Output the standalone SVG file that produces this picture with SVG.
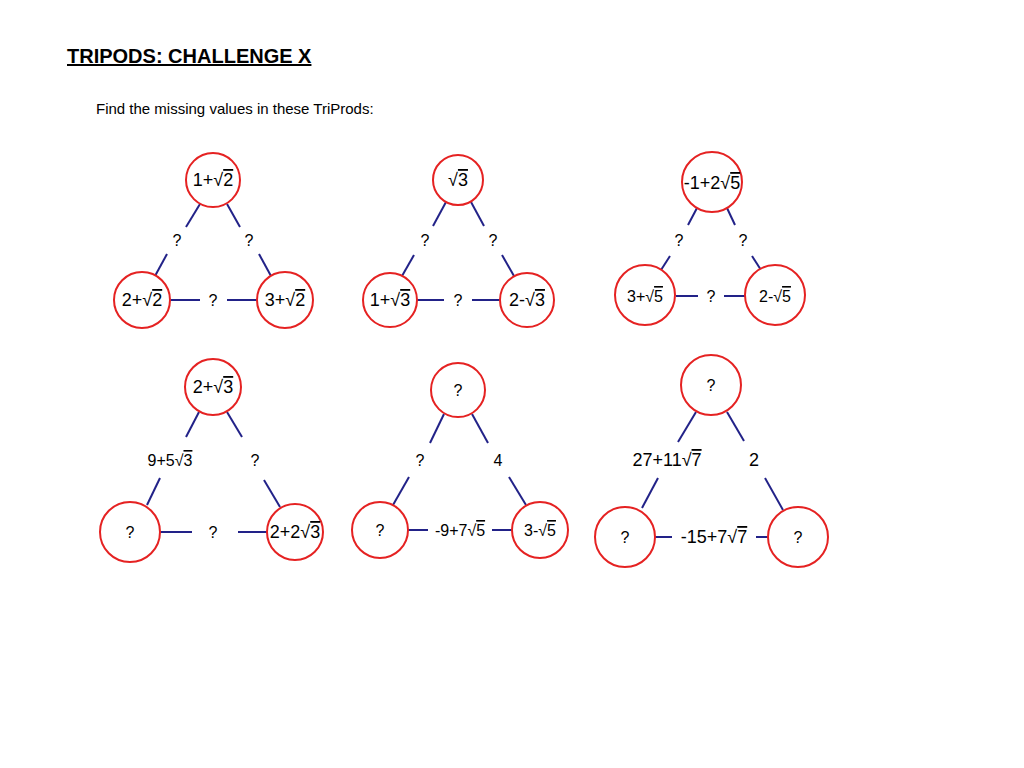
<svg xmlns="http://www.w3.org/2000/svg" width="1024" height="768" viewBox="0 0 1024 768">
<style>
text{font-family:"Liberation Sans",Arial,sans-serif;fill:#000}
.n{fill:#fff;stroke:#e52222;stroke-width:2}
.t{font-size:18px;text-anchor:middle;dominant-baseline:central}
.l{font-size:16px;text-anchor:middle;dominant-baseline:central}
.o{text-decoration:overline}
#edges line{stroke:#222288;stroke-width:2}
</style>
<rect width="1024" height="768" fill="#fff"/>
<text x="67" y="63" font-size="20" font-weight="bold" text-decoration="underline">TRIPODS: CHALLENGE X</text>
<text x="96" y="114" font-size="15">Find the missing values in these TriProds:</text>
<g id="edges">
<line x1="200" y1="204" x2="186" y2="227"/><line x1="167" y1="254" x2="155" y2="276"/>
<line x1="227" y1="204" x2="240" y2="227"/><line x1="259" y1="254" x2="271" y2="276"/>
<line x1="170" y1="300" x2="200" y2="300"/><line x1="227" y1="300" x2="257" y2="300"/>
<line x1="446" y1="202" x2="433" y2="226"/><line x1="414" y1="255" x2="402" y2="276"/>
<line x1="471" y1="202" x2="484" y2="226"/><line x1="502" y1="255" x2="514" y2="276"/>
<line x1="417" y1="300" x2="444" y2="300" stroke-width="3"/><line x1="472" y1="300" x2="500" y2="300" stroke-width="3"/>
<line x1="697" y1="208" x2="688" y2="225"/><line x1="670" y1="256" x2="661" y2="270"/>
<line x1="727" y1="208" x2="735" y2="225"/><line x1="752" y1="256" x2="761" y2="270"/>
<line x1="676" y1="296" x2="698" y2="296"/><line x1="724" y1="296" x2="745" y2="296"/>
<line x1="199" y1="412" x2="186" y2="437"/><line x1="160" y1="478" x2="147" y2="505"/>
<line x1="227" y1="412" x2="242" y2="437"/><line x1="264" y1="480" x2="280" y2="507"/>
<line x1="160" y1="532" x2="192" y2="532"/><line x1="238" y1="532" x2="267" y2="532"/>
<line x1="444" y1="414" x2="430" y2="443"/><line x1="409" y1="477" x2="393" y2="505"/>
<line x1="472" y1="414" x2="488" y2="443"/><line x1="509" y1="477" x2="526" y2="505"/>
<line x1="408" y1="530" x2="428" y2="530"/><line x1="492" y1="530" x2="512" y2="530"/>
<line x1="696" y1="412" x2="678" y2="442"/><line x1="658" y1="478" x2="642" y2="508"/>
<line x1="727" y1="412" x2="744" y2="441"/><line x1="765" y1="478" x2="783" y2="510"/>
<line x1="655" y1="537" x2="672" y2="537"/><line x1="756" y1="537" x2="768" y2="537"/>
</g>
<g id="t1">
<g id="n1a"><circle class="n" cx="213" cy="180" r="27"/><text class="t" x="213" y="180">1+√<tspan class="o">2</tspan></text></g>
<g id="n1b"><circle class="n" cx="142" cy="300" r="28"/><text class="t" x="142" y="300">2+√<tspan class="o">2</tspan></text></g>
<g id="n1c"><circle class="n" cx="285" cy="300" r="28"/><text class="t" x="285" y="300">3+√<tspan class="o">2</tspan></text></g>
<text class="l" x="177" y="240">?</text><text class="l" x="249" y="240">?</text><text class="l" x="213" y="300">?</text>
</g>
<g id="t2">
<g id="n2a"><circle class="n" cx="458" cy="180" r="25"/><text class="t" x="458" y="180">√<tspan class="o">3</tspan></text></g>
<g id="n2b"><circle class="n" cx="390" cy="300" r="27"/><text class="t" x="390" y="300">1+√<tspan class="o">3</tspan></text></g>
<g id="n2c"><circle class="n" cx="527" cy="300" r="27"/><text class="t" x="527" y="300">2-√<tspan class="o">3</tspan></text></g>
<text class="l" x="425" y="240">?</text><text class="l" x="493" y="240">?</text><text class="l" x="458" y="300">?</text>
</g>
<g id="t3">
<g id="n3a"><circle class="n" cx="712" cy="182" r="30"/><text class="t" x="712" y="183" font-size="16">-1+2√<tspan class="o">5</tspan></text></g>
<g id="n3b"><circle class="n" cx="645" cy="295" r="30"/><text class="l" x="645" y="296">3+√<tspan class="o">5</tspan></text></g>
<g id="n3c"><circle class="n" cx="775" cy="295" r="30"/><text class="l" x="775" y="296">2-√<tspan class="o">5</tspan></text></g>
<text class="l" x="679" y="240">?</text><text class="l" x="743" y="240">?</text><text class="l" x="711" y="296">?</text>
</g>
<g id="t4">
<g id="n4a"><circle class="n" cx="213" cy="387" r="28"/><text class="t" x="213" y="387">2+√<tspan class="o">3</tspan></text></g>
<g id="n4b"><circle class="n" cx="130" cy="532" r="30"/><text class="l" x="130" y="532">?</text></g>
<g id="n4c"><circle class="n" cx="295" cy="532" r="28"/><text class="t" x="295" y="532">2+2√<tspan class="o">3</tspan></text></g>
<text class="l" x="170" y="460">9+5√<tspan class="o">3</tspan></text><text class="l" x="255" y="460">?</text><text class="l" x="213" y="532">?</text>
</g>
<g id="t5">
<g id="n5a"><circle class="n" cx="458" cy="390" r="27"/><text class="l" x="458" y="390">?</text></g>
<g id="n5b"><circle class="n" cx="380" cy="530" r="28"/><text class="l" x="380" y="530">?</text></g>
<g id="n5c"><circle class="n" cx="540" cy="530" r="28"/><text class="l" x="540" y="530">3-√<tspan class="o">5</tspan></text></g>
<text class="l" x="420" y="460">?</text><text class="l" x="498" y="460">4</text><text class="l" x="460" y="530">-9+7√<tspan class="o">5</tspan></text>
</g>
<g id="t6">
<g id="n6a"><circle class="n" cx="711" cy="385" r="30"/><text class="l" x="711" y="385">?</text></g>
<g id="n6b"><circle class="n" cx="625" cy="537" r="30"/><text class="l" x="625" y="537">?</text></g>
<g id="n6c"><circle class="n" cx="798" cy="537" r="30"/><text class="l" x="798" y="537">?</text></g>
<text class="t" x="667" y="460">27+11√<tspan class="o">7</tspan></text><text class="t" x="754" y="460">2</text><text class="t" x="714" y="537">-15+7√<tspan class="o">7</tspan></text>
</g>
</svg>
